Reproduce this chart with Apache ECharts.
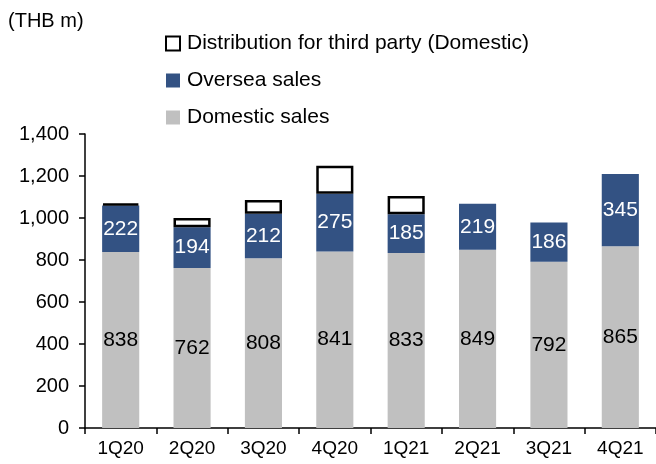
<!DOCTYPE html>
<html><head><meta charset="utf-8">
<script src="https://cdn.jsdelivr.net/npm/echarts@6/dist/echarts.min.js"></script>
<style>html,body{margin:0;padding:0;background:#fff}#c{width:656px;height:464px}</style>
</head><body><div id="c"></div>
<script>
const categories = ['1Q20','2Q20','3Q20','4Q20','1Q21','2Q21','3Q21','4Q21'];
const domestic = [838,762,808,841,833,849,792,865];
const oversea = [222,194,212,275,185,219,186,345];
const distribution = [8,44,66,133,87,0,0,0];
const yTicks = [0,200,400,600,800,1000,1200,1400];

const FONT = 'Liberation Sans, Arial, sans-serif';
const chart = echarts.init(document.getElementById('c'));
chart.setOption({
  animation:false,
  textStyle:{fontFamily:FONT},
  grid:{left:85,right:0,top:134,bottom:36},
  graphic:[{type:'text',left:8,top:11,style:{text:'(THB m)',font:'20px '+FONT,fill:'#000'}}],
  legend:{
    orient:'vertical', left:160, top:28, itemGap:16, itemWidth:14, itemHeight:14,
    icon:'rect',
    textStyle:{fontSize:21,color:'#000',fontFamily:FONT,padding:[0,0,0,2]},
    data:['Distribution for third party (Domestic)','Oversea sales','Domestic sales']
  },
  xAxis:{type:'category',data:categories,
    axisLine:{lineStyle:{color:'#000',width:1.5}},
    axisTick:{show:true,length:6,lineStyle:{color:'#000',width:1.5}},
    axisLabel:{fontSize:19,color:'#000',margin:11,fontFamily:FONT}},
  yAxis:{type:'value',min:0,max:1400,interval:200,
    axisLine:{show:true,lineStyle:{color:'#000',width:1.5}},
    axisTick:{show:true,inside:false,length:6,lineStyle:{color:'#000',width:1.5}},
    splitLine:{show:false},
    axisLabel:{fontSize:20,color:'#000',margin:16,fontFamily:FONT,
      formatter:v=>yTicks.includes(v)?v.toLocaleString('en-US'):''}},
  series:[
    {name:'Domestic sales',type:'bar',stack:'s',barWidth:'52%',data:domestic,
     itemStyle:{color:'#C0C0C0'},
     label:{show:true,position:'inside',fontSize:21,color:'#000',fontFamily:FONT}},
    {name:'Oversea sales',type:'bar',stack:'s',data:oversea,
     itemStyle:{color:'#335283'},
     label:{show:true,position:'inside',fontSize:21,color:'#fff',fontFamily:FONT}},
    {name:'Distribution for third party (Domestic)',type:'bar',stack:'s',
     data:distribution.map(v=>v===0?null:v),
     itemStyle:{color:'#fff',borderColor:'#000',borderWidth:2.5}}
  ]
});
</script></body></html>
